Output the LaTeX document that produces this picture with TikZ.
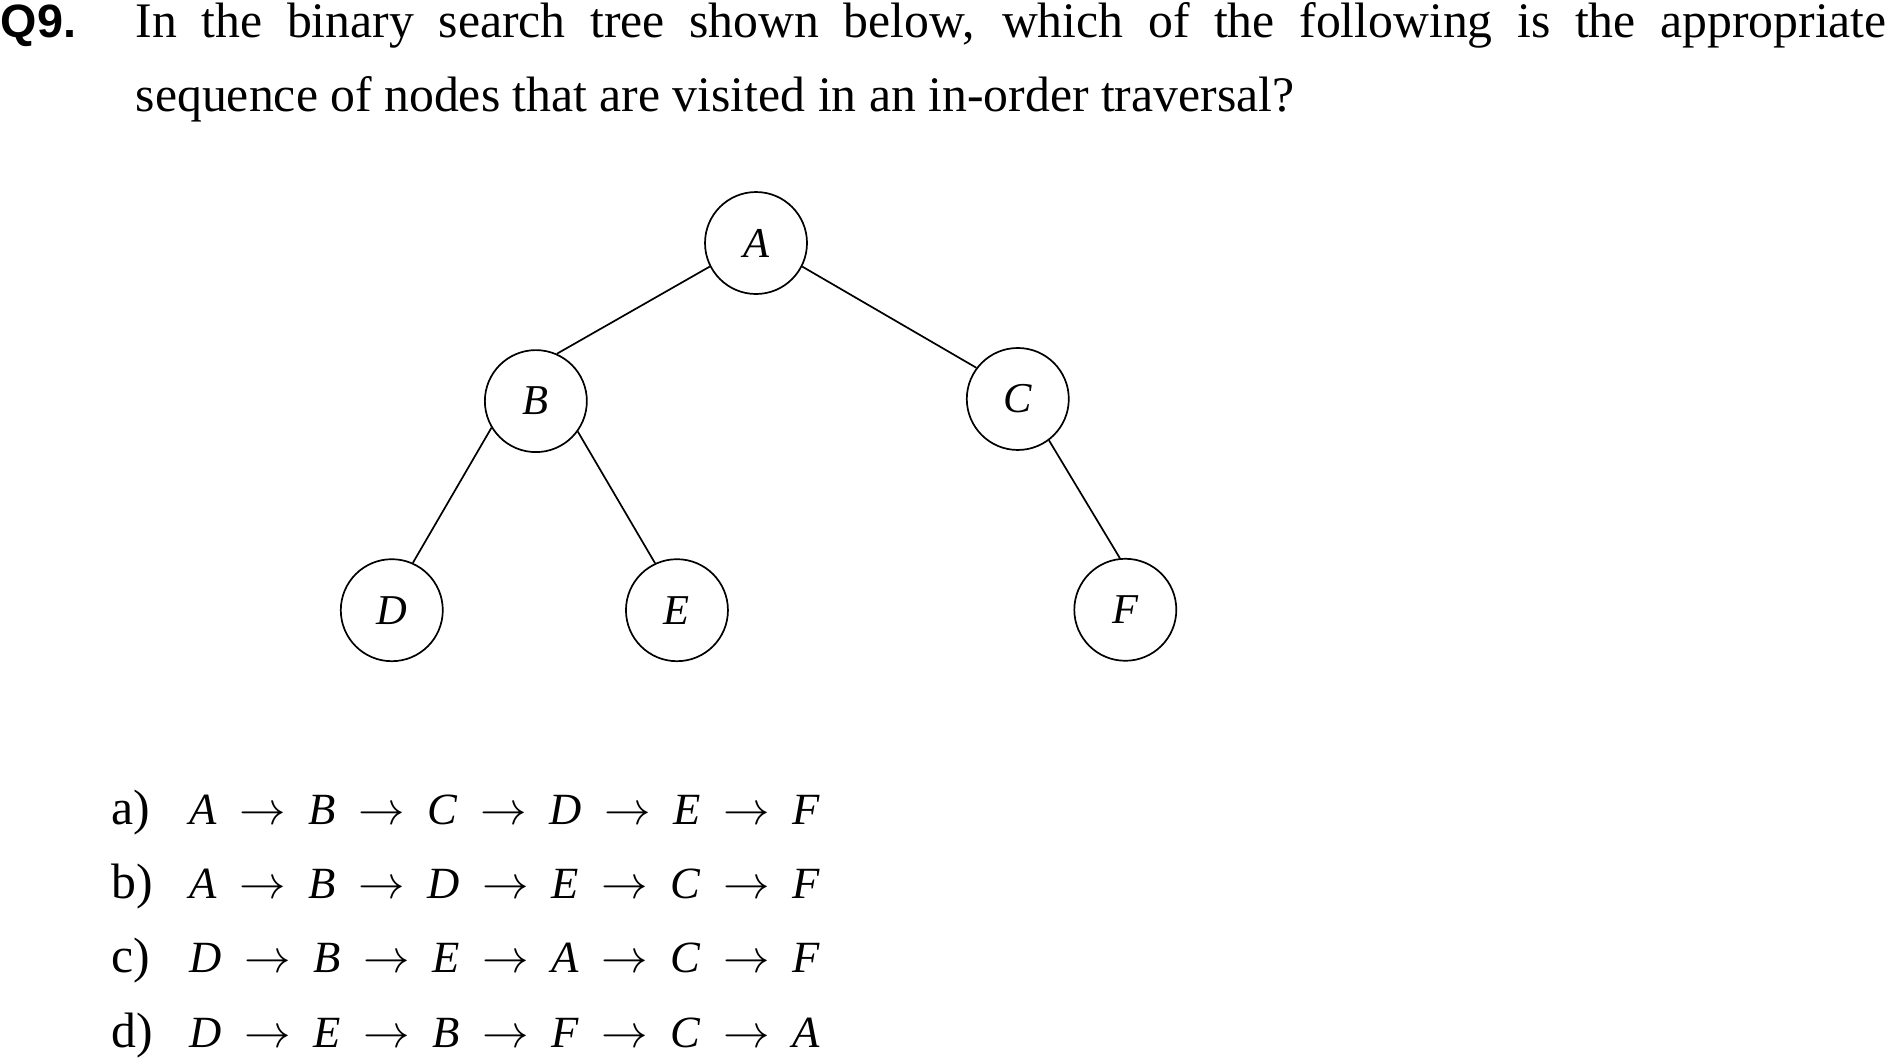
\documentclass[tikz,border=0pt]{standalone}
\usepackage{fontspec}
\setmainfont{Liberation Serif}
\newfontfamily\qfont{Liberation Sans}
\usetikzlibrary{positioning}
\newcommand\nxt{\ensuremath{\rightarrow}}

\begin{document}
\begin{tikzpicture}[
        x=0.2353pt, y=-0.2353pt,
        node distance=37pt and 52pt,
        vertex/.style={draw, circle, line width=0.4pt, minimum size=24pt, inner sep=0pt, font=\fontsize{10}{12}\selectfont\itshape},
        txt/.style={anchor=base west, inner sep=0pt, font=\fontsize{11.7}{14}\selectfont},
        seq/.style={anchor=base west, inner sep=0pt, font=\fontsize{10.5}{12}\selectfont\itshape},
        link/.style={line width=0.4pt},
    ]
        \useasboundingbox (0,0) rectangle (1887,1059);
        % Question
        \node[txt, font=\qfont\bfseries\fontsize{11}{13}\selectfont] (qnum) at (0,37.3) {Q9.};
        \node[txt] (qline1) at (135,37.3) {\makebox[412pt][s]{In the binary search tree shown below, which of the following is the appropriate}};
        \node[txt] (qline2) at (135,111.7) {sequence of nodes that are visited in an in-order traversal?};
        % Tree
        \node[vertex] (A) at (756,243) {A};
        \node[vertex, on grid, below left=37.2pt and 51.8pt of A] (B) {B};
        \node[vertex, on grid, below right=36.7pt and 61.6pt of A] (C) {C};
        \node[vertex, on grid, below left=49.2pt and 33.9pt of B] (D) {D};
        \node[vertex, on grid, below right=49.2pt and 33.2pt of B] (E) {E};
        \node[vertex, on grid, below right=49.6pt and 25.3pt of C] (F) {F};

        \draw[link] (A.207) -- (B.66);
        \draw[link] (A.333) -- (C.143);
        \draw[link] (B.211) -- (D.66);
        \draw[link] (B.324) -- (E.115);
        \draw[link] (C.307) -- (F.96);
        % Options
        \node[txt] (opta) at (110.7,824) {a)};
        \node[seq] (seqa) at (189,824) {\makebox[148.2pt][s]{A \nxt{} B \nxt{} C \nxt{} D \nxt{} E \nxt{} F}};
        \node[txt] (optb) at (110.7,898.3) {b)};
        \node[seq] (seqb) at (189,898.3) {\makebox[148.2pt][s]{A \nxt{} B \nxt{} D \nxt{} E \nxt{} C \nxt{} F}};
        \node[txt] (optc) at (110.7,972.6) {c)};
        \node[seq] (seqc) at (189,972.6) {\makebox[148.2pt][s]{D \nxt{} B \nxt{} E \nxt{} A \nxt{} C \nxt{} F}};
        \node[txt] (optd) at (110.7,1047) {d)};
        \node[seq] (seqd) at (189,1047) {\makebox[148.2pt][s]{D \nxt{} E \nxt{} B \nxt{} F \nxt{} C \nxt{} A}};
    \end{tikzpicture}
\end{document}
